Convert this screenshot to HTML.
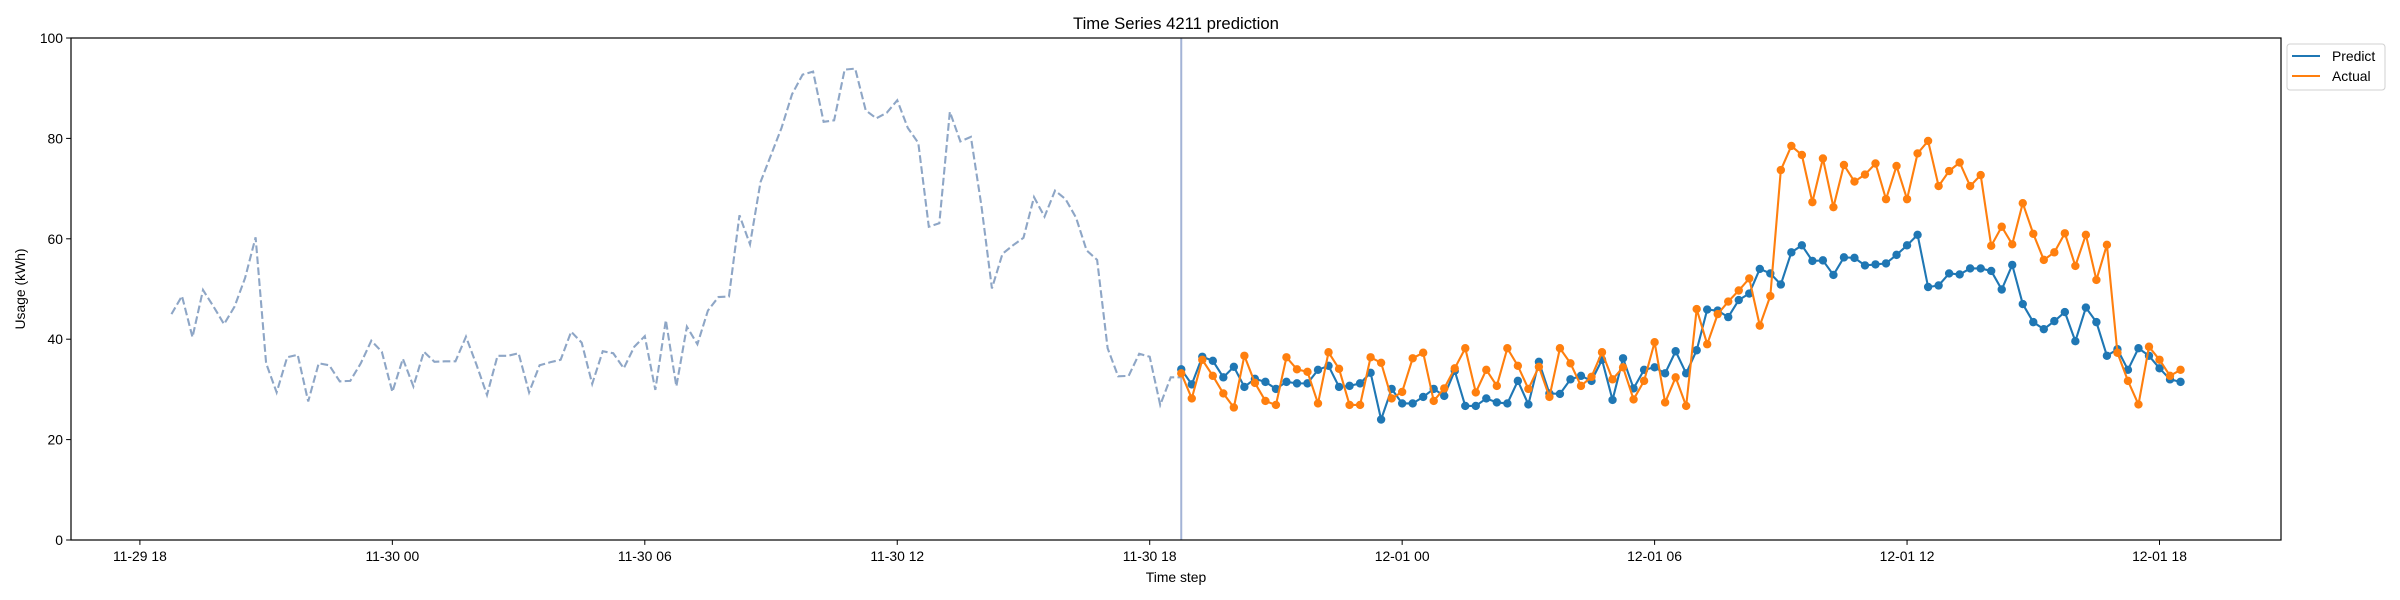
<!DOCTYPE html>
<html><head><meta charset="utf-8"><style>
html,body{margin:0;padding:0;background:#fff;}
svg{display:block;font-family:"Liberation Sans","DejaVu Sans",sans-serif;}
</style></head><body>
<svg id="chart" width="2400" height="600" viewBox="0 0 2400 600" xmlns="http://www.w3.org/2000/svg">
<rect width="2400" height="600" fill="#fff"/>
<text x="1176" y="29" font-size="16.7" text-anchor="middle" fill="#000">Time Series 4211 prediction</text>
<g id="plot"></g>
<text x="1176" y="582" font-size="13.9" text-anchor="middle" fill="#000">Time step</text>
<text transform="translate(25,289) rotate(-90)" font-size="13.9" text-anchor="middle" fill="#000">Usage (kWh)</text>
<g>
<rect x="2287" y="44" width="98" height="46" rx="3" fill="#fff" stroke="#d0d0d0" stroke-width="1"/>
<line x1="2292" y1="56" x2="2320" y2="56" stroke="#1f77b4" stroke-width="2.1"/>
<text x="2332" y="61" font-size="13.9" fill="#000">Predict</text>
<line x1="2292" y1="76" x2="2320" y2="76" stroke="#ff7f0e" stroke-width="2.1"/>
<text x="2332" y="81" font-size="13.9" fill="#000">Actual</text>
</g>
</svg>
<script>
// hours measured from 11-29 00:00
const historyStartHour = 18.75;
const forecastStartHour = 42.75;
const stepHours = 0.25;
const historyValues = [45.0,48.6,40.4,49.8,46.5,43.0,46.5,52.2,60.3,35.2,29.4,36.4,36.9,27.6,35.2,34.8,31.6,31.7,35.2,39.7,37.5,29.5,36.1,30.6,37.5,35.5,35.6,35.6,40.5,34.9,28.9,36.7,36.7,37.2,29.4,34.8,35.4,35.9,41.5,39.3,31.1,37.6,37.2,34.2,38.5,40.6,29.9,43.8,30.6,
42.5,39.0,45.7,48.4,48.5,64.7,58.9,71.3,76.7,82.1,88.8,92.7,93.3,83.3,83.6,93.7,93.9,85.6,84.0,85.1,87.6,82.1,79.1,62.4,63.1,85.3,79.4,80.3,66.6,50.1,57.0,58.7,60.2,68.3,64.4,69.6,67.9,64.2,57.7,55.8,38.2,32.6,32.7,37.1,36.5,26.9,32.4,32.4];
const predictValues = [34.0,31.0,36.5,35.7,32.4,34.5,30.5,32.1,31.5,30.1,31.5,31.2,31.2,33.9,34.7,30.5,30.7,31.2,33.3,24.0,30.1,27.2,27.2,28.5,30.1,
28.7,33.7,26.7,26.7,28.2,27.4,27.2,31.7,27.0,35.5,29.2,29.1,32.0,32.7,31.7,35.9,27.9,36.2,30.2,33.9,34.4,33.2,37.6,33.2,37.8,
45.9,45.7,44.4,47.8,49.1,54.0,53.1,50.9,57.3,58.7,55.6,55.7,52.8,56.3,56.2,54.7,54.9,55.1,56.8,58.7,60.8,50.4,50.7,53.1,52.9,
54.1,54.1,53.6,49.9,54.8,47.0,43.4,42.0,43.6,45.4,39.6,46.3,43.4,36.7,38.0,33.9,38.2,36.7,34.2,32.0,31.5];
const actualValues = [33.2,28.2,35.9,32.7,29.2,26.4,36.7,31.3,27.7,26.9,36.4,34.0,33.5,27.2,37.4,34.1,26.9,26.9,36.4,35.3,28.2,29.5,36.2,37.3,27.7,
30.2,34.2,38.2,29.4,33.9,30.7,38.2,34.7,30.1,34.5,28.5,38.2,35.2,30.7,32.5,37.4,32.0,34.4,28.0,31.7,39.4,27.4,32.4,26.7,46.0,
39.0,45.0,47.5,49.7,52.1,42.7,48.6,73.7,78.5,76.7,67.3,76.0,66.3,74.7,71.4,72.8,75.0,67.9,74.5,67.9,77.0,79.5,70.5,73.5,75.2,
70.5,72.7,58.6,62.4,58.9,67.1,61.0,55.8,57.3,61.1,54.6,60.8,51.8,58.8,37.3,31.7,27.0,38.5,35.9,32.7,33.9];
const xTickHours = [18,24,30,36,42,48,54,60,66];
const xTickLabels = ["11-29 18","11-30 00","11-30 06","11-30 12","11-30 18","12-01 00","12-01 06","12-01 12","12-01 18"];
const yTicks = [0,20,40,60,80,100];

const NS = "http://www.w3.org/2000/svg";
const L = 71, R = 2281, T = 38, B = 540;
const dataMin = historyStartHour, dataMax = forecastStartHour + (predictValues.length - 1) * stepHours;
const pad = (dataMax - dataMin) * 0.05;
const x0 = dataMin - pad, x1 = dataMax + pad;
function xs(h){ return L + (h - x0) / (x1 - x0) * (R - L); }
function ys(v){ return B - v / 100 * (B - T); }
const plot = document.getElementById('plot');
function el(tag, attrs){ const e = document.createElementNS(NS, tag); for (const k in attrs) e.setAttribute(k, attrs[k]); plot.appendChild(e); return e; }

// y ticks
yTicks.forEach(v => {
  const t = el('line', {x1: L - 4.9, x2: L, y1: ys(v), y2: ys(v), stroke: '#000', 'stroke-width': 1});
  
  
  const lb = el('text', {x: L - 8, y: ys(v) + 5, 'font-size': 13.9, 'text-anchor': 'end', fill: '#000'});
  
  
  lb.textContent = v;
});
// x ticks
xTickHours.forEach((h, i) => {
  const t = el('line', {x1: xs(h), x2: xs(h), y1: B, y2: B + 4.9, stroke: '#000', 'stroke-width': 1});
  
  
  const lb = el('text', {x: xs(h), y: B + 21, 'font-size': 13.9, 'text-anchor': 'middle', fill: '#000'});
  
  
  lb.textContent = xTickLabels[i];
});

// history dashed line
const hp = historyValues.map((v, i) => xs(historyStartHour + i * stepHours).toFixed(2) + ',' + ys(v).toFixed(2)).join(' ');
const hl = el('polyline', {points: hp, fill: 'none', stroke: '#8ea6c6', 'stroke-width': 2.1, 'stroke-dasharray': '7.7,3.3'});



// forecast start marker
const vl = el('line', {x1: xs(forecastStartHour), x2: xs(forecastStartHour), y1: T, y2: B, stroke: '#a3b3d6', 'stroke-width': 2});



function series(vals, color, name){
  const pts = vals.map((v, i) => xs(forecastStartHour + i * stepHours).toFixed(2) + ',' + ys(v).toFixed(2)).join(' ');
  const pl = el('polyline', {points: pts, fill: 'none', stroke: color, 'stroke-width': 2.1});
  
  
  vals.forEach((v, i) => {
    const c = el('circle', {cx: xs(forecastStartHour + i * stepHours), cy: ys(v), r: 4.2, fill: color});
    
    
  });
}
series(predictValues, '#1f77b4', 'predict');
series(actualValues, '#ff7f0e', 'actual');

// axes frame
const fr = el('rect', {x: L, y: T, width: R - L, height: B - T, fill: 'none', stroke: '#000', 'stroke-width': 1.2});


</script>
</body></html>
